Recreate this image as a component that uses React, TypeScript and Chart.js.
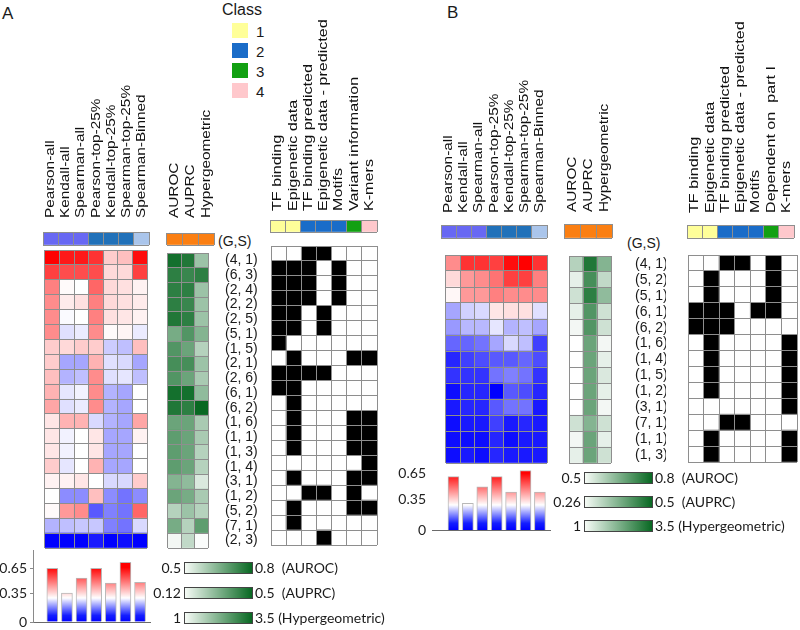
import React, { useEffect, useRef } from "react";
import { Chart, registerables } from "chart.js";
Chart.register(...registerables);

// ---------------- DATA ----------------
const methodHeaders = ["Pearson-all", "Kendall-all", "Spearman-all", "Pearson-top-25%", "Kendall-top-25%", "Spearman-top-25%", "Spearman-Binned"];
const methodClass = [1, 1, 1, 2, 2, 2, 3];
const scoreHeaders = ["AUROC", "AUPRC", "Hypergeometric"];
const scoreClass = [1, 1, 1];
const featureHeadersA = ["TF binding", "Epigenetic data", "TF binding predicted", "Epigenetic data - predicted", "Motifs", "Variant information", "K-mers"];
const featureHeadersB = ["TF binding", "Epigenetic data", "TF binding predicted", "Epigenetic data - predicted", "Motifs", "Dependent on  part I", "K-mers"];
const featureClass = [1, 1, 2, 2, 2, 3, 4];
const classNames = ["1", "2", "3", "4"];

const rowsA = ["(4, 1)", "(6, 3)", "(2, 4)", "(2, 2)", "(2, 5)", "(5, 1)", "(1, 5)", "(2, 1)", "(2, 6)", "(6, 1)", "(6, 2)", "(1, 6)", "(1, 1)", "(1, 3)", "(1, 4)", "(3, 1)", "(1, 2)", "(5, 2)", "(7, 1)", "(2, 3)"];
const rowsB = ["(4, 1)", "(5, 2)", "(5, 1)", "(6, 1)", "(6, 2)", "(1, 6)", "(1, 4)", "(1, 5)", "(1, 2)", "(3, 1)", "(7, 1)", "(1, 1)", "(1, 3)"];

// correlation heatmap values (-1 blue .. 0 white .. 1 red)
const corrA = [
  [1.0, 0.9, 0.9, 0.8, 0.2, 0.25, 0.95],
  [0.75, 0.7, 0.7, 0.7, 0.15, 0.15, 0.75],
  [0.5, 0.02, 0.0, 0.6, 0.15, 0.12, 0.05],
  [0.45, 0.08, 0.12, 0.5, 0.15, 0.12, 0.08],
  [0.45, -0.02, 0.0, 0.5, 0.12, 0.1, 0.05],
  [0.45, -0.12, -0.08, 0.45, 0.02, 0.04, -0.08],
  [0.2, 0.15, 0.2, 0.2, -0.2, -0.25, 0.25],
  [0.2, -0.35, -0.35, 0.3, -0.12, -0.15, -0.35],
  [0.25, -0.3, -0.25, 0.45, -0.12, -0.1, -0.25],
  [0.3, -0.1, -0.05, 0.45, -0.3, -0.35, 0.0],
  [0.35, -0.12, -0.08, 0.45, -0.3, -0.35, 0.0],
  [0.1, 0.3, 0.3, -0.15, -0.3, -0.35, 0.35],
  [0.1, -0.05, 0.0, 0.1, -0.35, -0.35, 0.05],
  [0.1, -0.05, 0.0, 0.1, -0.35, -0.35, 0.0],
  [0.2, -0.1, 0.0, 0.3, -0.35, -0.35, 0.0],
  [0.05, 0.05, 0.1, 0.0, -0.15, -0.15, 0.2],
  [0.0, -0.45, -0.45, 0.25, -0.45, -0.55, -0.45],
  [0.02, 0.4, 0.45, -0.65, -0.5, -0.55, 0.6],
  [-0.3, -0.25, -0.22, -0.22, -0.5, -0.55, -0.15],
  [-1.0, -1.0, -1.0, -0.9, -1.0, -0.95, -1.0],
];
const corrB = [
  [0.45, 0.8, 0.8, 0.75, 0.95, 1.0, 0.8],
  [0.15, 0.4, 0.45, 0.55, 0.75, 0.75, 0.5],
  [0.03, 0.4, 0.4, 0.5, 0.45, 0.45, 0.45],
  [-0.35, -0.18, -0.15, 0.1, 0.12, 0.12, -0.12],
  [-0.4, -0.28, -0.28, -0.1, -0.3, -0.25, -0.35],
  [-0.6, -0.6, -0.55, -0.35, -0.15, -0.25, -0.75],
  [-0.85, -0.75, -0.7, -0.65, -0.65, -0.6, -0.7],
  [-0.8, -0.8, -0.8, -0.55, -0.5, -0.55, -0.8],
  [-0.95, -0.85, -0.85, -1.0, -0.65, -0.7, -0.85],
  [-0.9, -0.85, -0.85, -0.65, -0.55, -0.55, -0.9],
  [-0.95, -0.9, -0.9, -0.75, -0.9, -0.85, -0.9],
  [-0.95, -0.95, -0.95, -0.85, -0.95, -0.9, -0.9],
  [-0.95, -0.9, -0.95, -0.85, -0.9, -0.9, -0.9],
];

// scores (0 = lowest, 1 = highest of colour scale): AUROC, AUPRC, Hypergeometric
const scoresA = [
  [0.95, 0.9, 0.4],
  [0.85, 0.8, 0.85],
  [0.85, 0.85, 0.4],
  [0.85, 0.8, 0.4],
  [0.9, 0.85, 0.4],
  [0.55, 0.7, 0.5],
  [0.7, 0.6, 0.3],
  [0.75, 0.75, 0.4],
  [0.7, 0.6, 0.35],
  [0.95, 0.95, 0.45],
  [0.9, 0.85, 1.0],
  [0.6, 0.6, 0.35],
  [0.65, 0.6, 0.35],
  [0.65, 0.6, 0.3],
  [0.65, 0.6, 0.3],
  [0.5, 0.45, 0.15],
  [0.6, 0.55, 0.35],
  [0.3, 0.4, 0.3],
  [0.55, 0.3, 0.65],
  [0.05, 0.25, 0.02],
];
const scoresB = [
  [0.3, 0.9, 0.5],
  [0.1, 0.75, 0.25],
  [0.2, 0.85, 0.45],
  [0.1, 0.7, 0.2],
  [0.05, 0.7, 0.2],
  [0.0, 0.6, 0.05],
  [0.0, 0.6, 0.1],
  [0.0, 0.6, 0.15],
  [0.0, 0.6, 0.1],
  [0.0, 0.6, 0.05],
  [0.2, 0.5, 0.2],
  [0.05, 0.6, 0.1],
  [0.1, 0.6, 0.2],
];

// feature usage (1 = used)
const featA = [
  [0, 0, 1, 1, 0, 0, 0],
  [1, 1, 1, 0, 1, 0, 0],
  [1, 1, 1, 0, 1, 0, 0],
  [1, 1, 1, 0, 1, 0, 0],
  [1, 1, 0, 1, 0, 0, 0],
  [1, 1, 0, 1, 0, 0, 0],
  [1, 0, 0, 0, 0, 0, 0],
  [0, 1, 0, 0, 0, 1, 1],
  [1, 1, 1, 1, 0, 0, 0],
  [1, 1, 0, 0, 0, 0, 0],
  [0, 1, 0, 0, 0, 0, 0],
  [0, 1, 0, 0, 0, 1, 1],
  [0, 1, 0, 0, 0, 1, 1],
  [0, 1, 0, 0, 0, 1, 1],
  [0, 0, 0, 0, 0, 0, 1],
  [0, 1, 0, 0, 0, 1, 1],
  [0, 0, 1, 1, 0, 1, 0],
  [0, 1, 0, 0, 0, 1, 1],
  [0, 1, 0, 0, 0, 0, 0],
  [0, 0, 0, 1, 0, 0, 0],
];
const featB = [
  [0, 0, 1, 1, 0, 1, 0],
  [0, 1, 0, 0, 0, 1, 0],
  [0, 1, 0, 0, 0, 1, 0],
  [1, 1, 1, 0, 1, 1, 0],
  [1, 1, 1, 0, 0, 0, 0],
  [0, 1, 0, 0, 0, 0, 1],
  [0, 1, 0, 0, 0, 0, 1],
  [0, 1, 0, 0, 0, 0, 1],
  [0, 1, 0, 0, 0, 0, 1],
  [0, 0, 0, 0, 0, 0, 1],
  [0, 0, 1, 1, 0, 0, 0],
  [0, 1, 0, 0, 0, 0, 1],
  [0, 1, 0, 0, 0, 0, 1],
];

// mean correlation per method
const barA = [0.65, 0.35, 0.53, 0.65, 0.47, 0.72, 0.48];
const barB = [0.62, 0.31, 0.5, 0.62, 0.44, 0.69, 0.44];
const barTicks = [0, 0.35, 0.65];

const scaleLowA = ["0.5", "0.12", "1"];
const scaleLowB = ["0.5", "0.26", "1"];
const scaleHigh = ["0.8  (AUROC)", "0.5  (AUPRC)", "3.5 (Hypergeometric)"];

// ---------------- STYLES ----------------
const SANS = '"Liberation Sans", Arial, sans-serif';
const LATO = 'Lato, "Open Sans", sans-serif';
const GRID = "#8e8e8e";
const methodPalette: Record<number, string> = { 1: "#6868f3", 2: "#2171b9", 3: "#aac5eb" };
const scorePalette: Record<number, string> = { 1: "#fb7f12" };
const classPalette: Record<number, string> = { 1: "#ffff99", 2: "#1a6cc8", 3: "#12a012", 4: "#ffc8cc" };

const rgb = (r: number, g: number, b: number) => `rgb(${Math.round(r)},${Math.round(g)},${Math.round(b)})`;
const diverging = (v: number) =>
  v >= 0 ? rgb(255, 255 * (1 - v), 255 * (1 - v)) : rgb(255 * (1 + v), 255 * (1 + v), 255);
const GREEN_END = [8, 104, 34];
const greens = (v: number) =>
  rgb(255 + (GREEN_END[0] - 255) * v, 255 + (GREEN_END[1] - 255) * v, 255 + (GREEN_END[2] - 255) * v);
const binary = (v: number) => (v ? "#000000" : "#ffffff");

const zeroPad = (a: any) => {
  a.paddingTop = 0;
  a.paddingBottom = 0;
  a.paddingLeft = 0;
  a.paddingRight = 0;
};

const headerPlugin = {
  id: "colHeaders",
  afterDraw(chart: any, _args: any, opts: any) {
    const hs: string[] | undefined = opts && opts.labels;
    if (!hs || !hs.length) return;
    const { ctx, chartArea } = chart;
    const xs = chart.scales.x;
    ctx.save();
    ctx.font = opts.font;
    ctx.fillStyle = opts.color;
    ctx.textAlign = "left";
    ctx.textBaseline = "middle";
    hs.forEach((t, i) => {
      const px = xs.getPixelForValue(i);
      ctx.save();
      ctx.translate(px, chartArea.top - opts.gap);
      ctx.rotate(-Math.PI / 2);
      ctx.scale(opts.stretch, 1);
      ctx.fillText(t, 0, 0);
      ctx.restore();
    });
    ctx.restore();
  },
};

type MatrixProps = {
  values: number[][];
  color: (v: number) => string;
  x: number;
  y: number;
  w: number;
  h: number;
  rowLabels?: string[];
  labelW?: number;
  labelPad?: number;
  headers?: string[];
  headerH?: number;
  headerGap?: number;
  stretch?: number;
};

function Matrix({ values, color, x, y, w, h, rowLabels, labelW = 0, labelPad = 8, headers, headerH = 0, headerGap = 10, stretch = 1.18 }: MatrixProps) {
  const ref = useRef<HTMLCanvasElement>(null);
  const cw = w + 2 + labelW;
  const ch = h + 2 + headerH;
  useEffect(() => {
    if (!ref.current) return;
    const R = values.length;
    const C = values[0].length;
    const datasets = values
      .map((row) => ({
        data: row.map(() => 1),
        backgroundColor: row.map((v) => color(v)),
        borderWidth: 0,
        barPercentage: 1,
        categoryPercentage: 1,
      }))
      .reverse();
    const scales: any = {
      x: {
        type: "category",
        stacked: true,
        offset: true,
        grid: { display: true, offset: true, color: GRID, lineWidth: 1, drawTicks: false, z: 1 },
        border: { display: false },
        ticks: { display: false },
        afterFit: (a: any) => { a.height = 0; zeroPad(a); },
      },
      y: {
        type: "linear",
        stacked: true,
        min: 0,
        max: R,
        grid: { display: true, color: GRID, lineWidth: 1, drawTicks: false, z: 1 },
        border: { display: false },
        ticks: { display: false },
        afterBuildTicks: (a: any) => { a.ticks = Array.from({ length: R + 1 }, (_, i) => ({ value: i })); },
        afterFit: (a: any) => { a.width = 0; zeroPad(a); },
      },
    };
    if (rowLabels) {
      scales.yl = {
        type: "linear",
        position: "right",
        min: 0,
        max: R,
        grid: { display: false },
        border: { display: false },
        afterBuildTicks: (a: any) => { a.ticks = rowLabels.map((_, i) => ({ value: R - i - 0.5 })); },
        ticks: {
          autoSkip: false,
          padding: labelPad,
          color: "#1a1a1a",
          font: { family: SANS, size: 14 },
          callback: (v: any) => rowLabels[R - 1 - Math.floor(Number(v))],
        },
        afterFit: (a: any) => { a.width = labelW; zeroPad(a); },
      };
    }
    const chart = new Chart(ref.current, {
      type: "bar",
      data: { labels: Array.from({ length: C }, (_, i) => String(i)), datasets },
      options: {
        responsive: false,
        animation: false,
        devicePixelRatio: 1,
        events: [],
        layout: { padding: { left: 1, right: 1, bottom: 1, top: headerH + 1 } },
        scales,
        plugins: {
          legend: { display: false },
          tooltip: { enabled: false },
          colHeaders: headers
            ? { labels: headers, font: `13px ${SANS}`, color: "#111", gap: headerGap, stretch }
            : { labels: [] },
        } as any,
      },
      plugins: [headerPlugin as any],
    });
    return () => chart.destroy();
  }, []);
  return (
    <canvas
      ref={ref}
      width={cw}
      height={ch}
      style={{ position: "absolute", left: x - 1, top: y - headerH - 1, width: cw, height: ch }}
    />
  );
}

type BarsProps = {
  values: number[];
  left: number;
  top: number;
  width: number;
  height: number;
  pad: { left: number; right: number; top: number; bottom: number };
  axisW: number;
  yMax: number;
  xMin: number;
  xMax: number;
  axisLine: boolean;
  tickPad: number;
};

function GradientBars({ values, left, top, width, height, pad, axisW, yMax, xMin, xMax, axisLine, tickPad }: BarsProps) {
  const ref = useRef<HTMLCanvasElement>(null);
  useEffect(() => {
    if (!ref.current) return;
    const fill = (c: any) => {
      const chart = c.chart;
      const ys = chart.scales && chart.scales.y;
      if (!ys || !chart.chartArea) return "#ffffff";
      const g = chart.ctx.createLinearGradient(0, ys.getPixelForValue(0), 0, ys.getPixelForValue(0.66));
      g.addColorStop(0, "rgb(0,0,255)");
      g.addColorStop(0.12, "rgb(20,30,255)");
      g.addColorStop(0.44, "rgb(255,255,255)");
      g.addColorStop(0.8, "rgb(255,90,90)");
      g.addColorStop(1, "rgb(255,0,0)");
      return g;
    };
    const chart = new Chart(ref.current, {
      type: "bar",
      data: {
        datasets: [
          {
            data: values.map((v, i) => ({ x: i, y: v })),
            backgroundColor: fill,
            borderColor: "#b8b8b8",
            borderWidth: 1,
            barThickness: 11,
          } as any,
        ],
      },
      options: {
        responsive: false,
        animation: false,
        devicePixelRatio: 1,
        events: [],
        layout: { padding: pad },
        scales: {
          x: {
            type: "linear",
            min: xMin,
            max: xMax,
            offset: false,
            grid: { display: false },
            border: { display: true, color: "#6a6a6a", width: 1 },
            ticks: { display: false },
            afterFit: (a: any) => { a.height = 0; zeroPad(a); },
          },
          y: {
            type: "linear",
            min: 0,
            max: yMax,
            grid: { display: axisLine, drawOnChartArea: false, drawTicks: true, tickLength: 3, color: "#8a8a8a" },
            border: { display: axisLine, color: "#8a8a8a", width: 1 },
            afterBuildTicks: (a: any) => { a.ticks = barTicks.map((v) => ({ value: v })); },
            ticks: {
              autoSkip: false,
              padding: tickPad,
              color: "#222",
              font: { family: LATO, size: 14 },
              callback: (v: any) => String(v),
            },
            afterFit: (a: any) => { a.width = axisW; zeroPad(a); },
          },
        },
        plugins: { legend: { display: false }, tooltip: { enabled: false } },
      },
    });
    return () => chart.destroy();
  }, []);
  return (
    <canvas
      ref={ref}
      width={width}
      height={height}
      style={{ position: "absolute", left, top, width, height }}
    />
  );
}

function Txt({ x, y, children, size = 14, family = SANS, align = "left" }: any) {
  const tx = align === "right" ? "-100%" : align === "center" ? "-50%" : "0";
  return (
    <div
      style={{
        position: "absolute",
        left: x,
        top: y,
        transform: `translate(${tx}, -50%)`,
        fontFamily: family,
        fontSize: size,
        color: "#1a1a1a",
        whiteSpace: "pre",
        lineHeight: 1,
      }}
    >
      {children}
    </div>
  );
}

function ScaleLegend({ x, y0, step, lows }: { x: number; y0: number; step: number; lows: string[] }) {
  return (
    <>
      {lows.map((lo, i) => (
        <React.Fragment key={i}>
          <Txt x={x - 3} y={y0 + i * step} family={LATO} size={14} align="right">{lo}</Txt>
          <div
            style={{
              position: "absolute",
              left: x,
              top: y0 + i * step - 6,
              width: 67,
              height: 10,
              border: "1px solid #444",
              background: `linear-gradient(to right, #f6fbf6, rgb(${GREEN_END.join(",")}))`,
            }}
          />
          <Txt x={x + 71} y={y0 + i * step} family={LATO} size={14}>{scaleHigh[i]}</Txt>
        </React.Fragment>
      ))}
    </>
  );
}

export default function App() {
  const mColor = (v: number) => methodPalette[v];
  const sColor = (v: number) => scorePalette[v];
  const cColor = (v: number) => classPalette[v];
  return (
    <div
      style={{
        position: "absolute",
        left: 0,
        top: 0,
        width: 800,
        height: 630,
        background: "#ffffff",
        overflow: "hidden",
        fontFamily: SANS,
      }}
    >
      {/* panel letters */}
      <Txt x={2} y={13} size={17}>A</Txt>
      <Txt x={447} y={12} size={17}>B</Txt>

      {/* class legend */}
      <Txt x={222} y={10} size={16}>Class</Txt>
      {classNames.map((c, i) => (
        <React.Fragment key={c}>
          <div
            style={{
              position: "absolute",
              left: 232,
              top: 23 + i * 20,
              width: 16,
              height: 15,
              background: classPalette[i + 1],
            }}
          />
          <Txt x={256} y={31 + i * 20} size={15}>{c}</Txt>
        </React.Fragment>
      ))}

      {/* ---------- Panel A ---------- */}
      <Matrix values={[methodClass]} color={mColor} x={43} y={232} w={106} h={13} headers={methodHeaders} headerH={160} headerGap={14} />
      <Matrix values={corrA} color={diverging} x={45} y={250} w={102} h={298} />
      <Matrix values={[scoreClass]} color={sColor} x={167} y={233} w={47} h={12} headers={scoreHeaders} headerH={160} headerGap={15} />
      <Txt x={218} y={241}>(G,S)</Txt>
      <Matrix values={scoresA} color={greens} x={168} y={253} w={40} h={295} rowLabels={rowsA} labelW={52} labelPad={9} />
      <Matrix values={[featureClass]} color={cColor} x={270} y={220} w={107} h={12} headers={featureHeadersA} headerH={205} headerGap={9} stretch={1.24} />
      <Matrix values={featA} color={binary} x={271} y={246} w={106} h={299} />
      <GradientBars
        values={barA}
        left={0}
        top={545}
        width={160}
        height={85}
        pad={{ left: 0, right: 10, top: 5, bottom: 8 }}
        axisW={33}
        yMax={0.87}
        xMin={-1.32}
        xMax={6.68}
        axisLine={true}
        tickPad={3}
      />
      <ScaleLegend x={184} y0={568} step={25} lows={scaleLowA} />

      {/* ---------- Panel B ---------- */}
      <Matrix values={[methodClass]} color={mColor} x={441} y={225} w={106} h={13} headers={methodHeaders} headerH={160} headerGap={12} />
      <Matrix values={corrB} color={diverging} x={446} y={255} w={101} h={208} />
      <Matrix values={[scoreClass]} color={sColor} x={564} y={224} w={48} h={14} headers={scoreHeaders} headerH={160} headerGap={12} />
      <Txt x={627} y={243}>(G,S)</Txt>
      <Matrix values={scoresB} color={greens} x={569} y={256} w={42} h={207} rowLabels={rowsB} labelW={55} labelPad={16} />
      <Matrix values={[featureClass]} color={cColor} x={687} y={225} w={107} h={13} headers={featureHeadersB} headerH={210} headerGap={12} stretch={1.24} />
      <Matrix values={featB} color={binary} x={688} y={255} w={109} h={207} />
      <GradientBars
        values={barB}
        left={395}
        top={460}
        width={165}
        height={80}
        pad={{ left: 0, right: 10, top: 5, bottom: 10 }}
        axisW={37}
        yMax={0.754}
        xMin={-1.49}
        xMax={6.7}
        axisLine={false}
        tickPad={3}
      />
      <ScaleLegend x={584} y0={478} step={24} lows={scaleLowB} />
    </div>
  );
}
